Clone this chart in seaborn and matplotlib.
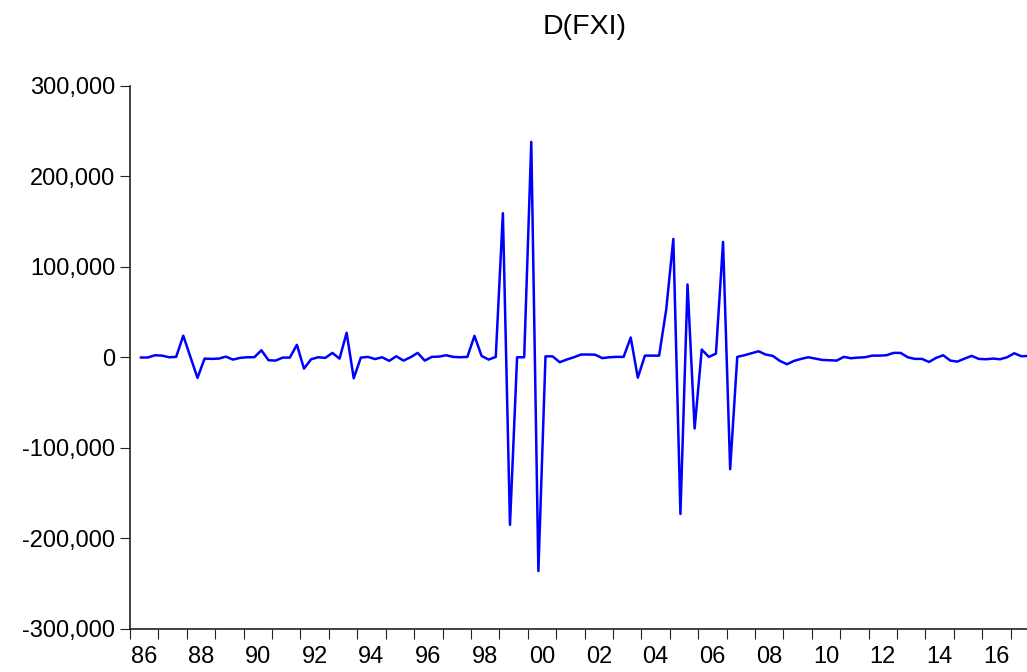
"""
plot.py

EViews-style line chart of the first difference of FXI (quarterly).
"""

import matplotlib
matplotlib.use("Agg")
import matplotlib.pyplot as plt
import pandas as pd
import seaborn as sns
from matplotlib.ticker import FixedLocator, FuncFormatter

TITLE = "D(FXI)"
START_PERIOD = "1986Q2"

# quarterly changes, 1986Q2 onwards
d_fxi = [
    -300, -300, 2200, 1800, 0, 400, 23800, 500, -22800, -1500,
    -1800, -1500, 700, -2600, -700, 0, 0, 7700, -3300, -3700,
    -400, -400, 13700, -12500, -2200, 0, -700, 4800, -1500, 27000,
    -23200, -400, 400, -2000, 0, -4000, 1100, -3700, 0, 4800,
    -3700, 400, 700, 2200, 400, 0, 400, 23600, 1500, -2600,
    400, 159000, -185000, 0, 0, 237700, -236000, 1000, 1000, -5500,
    -2500, 0, 3000, 3000, 2800, -1000, 0, 400, 400, 21800,
    -22500, 1800, 1800, 1800, 52800, 130600, -173000, 80400, -78600, 8500,
    400, 4000, 127300, -123600, 400, 2200, 4400, 6600, 3000, 1500,
    -4000, -7700, -4000, -1800, 0, -1500, -3000, -3300, -3700, 400,
    -1100, -400, 0, 1800, 1800, 2200, 4800, 4800, 0, -1800,
    -1800, -5200, -700, 2200, -3700, -4800, -1500, 1500, -1800, -2200,
    -1500, -2200, 0, 4400, 1100, 1500,
]

year_labels = ["86", "88", "90", "92", "94", "96", "98", "00",
               "02", "04", "06", "08", "10", "12", "14", "16"]
y_ticks = [-300000, -200000, -100000, 0, 100000, 200000, 300000]


def main():
    periods = pd.period_range(START_PERIOD, periods=len(d_fxi), freq="Q")
    # plot each quarter at the middle of its span, like EViews does
    df = pd.DataFrame({
        "t": periods.year + (periods.quarter - 1) / 4 + 0.125,
        "value": d_fxi,
    })

    sns.set_style("white")
    plt.rcParams["font.family"] = ["Liberation Sans", "DejaVu Sans"]

    fig = plt.figure(figsize=(10.27, 6.72), dpi=100)
    ax = fig.add_axes([130 / 1027, 1 - 629 / 672, 902 / 1027, 543.5 / 672])

    sns.lineplot(data=df, x="t", y="value", ax=ax, color="#0000ff", linewidth=1.8)

    first_year = periods[0].year
    last_year = periods[-1].year
    ax.set_xlim(first_year, last_year + periods[-1].quarter / 4)
    ax.set_ylim(-300000, 300000)

    # ticks at every year boundary, labels centred on even years
    ax.xaxis.set_major_locator(FixedLocator(range(first_year, last_year + 2)))
    ax.xaxis.set_major_formatter(FuncFormatter(lambda v, p: ""))
    label_pos = [int(("19" if y >= "50" else "20") + y) + 0.5 for y in year_labels]
    ax.set_xticks(label_pos, minor=True)
    ax.set_xticklabels(year_labels, minor=True)
    ax.tick_params(axis="x", which="minor", bottom=True, length=0, pad=12,
                   labelsize=17, labelcolor="black")
    ax.tick_params(axis="x", which="major", bottom=True, length=7.2, width=0.8,
                   direction="out", color="#222222")

    ax.set_yticks(y_ticks)
    ax.yaxis.set_major_formatter(FuncFormatter(lambda v, p: f"{int(v):,}"))
    ax.tick_params(axis="y", left=True, length=7.2, width=0.8, direction="out",
                   pad=3.6, labelsize=17, labelcolor="black", color="#222222")

    ax.set_xlabel("")
    ax.set_ylabel("")
    for side in ["top", "right"]:
        ax.spines[side].set_visible(False)
    for side in ["left", "bottom"]:
        ax.spines[side].set_linewidth(1.2)
        ax.spines[side].set_color("#222222")

    fig.text(585 / 1027, 1 - 34 / 672, TITLE, ha="center", va="baseline",
             fontsize=20.5, color="black")

    fig.savefig("out.png", dpi=100)
    plt.close(fig)


if __name__ == "__main__":
    main()
